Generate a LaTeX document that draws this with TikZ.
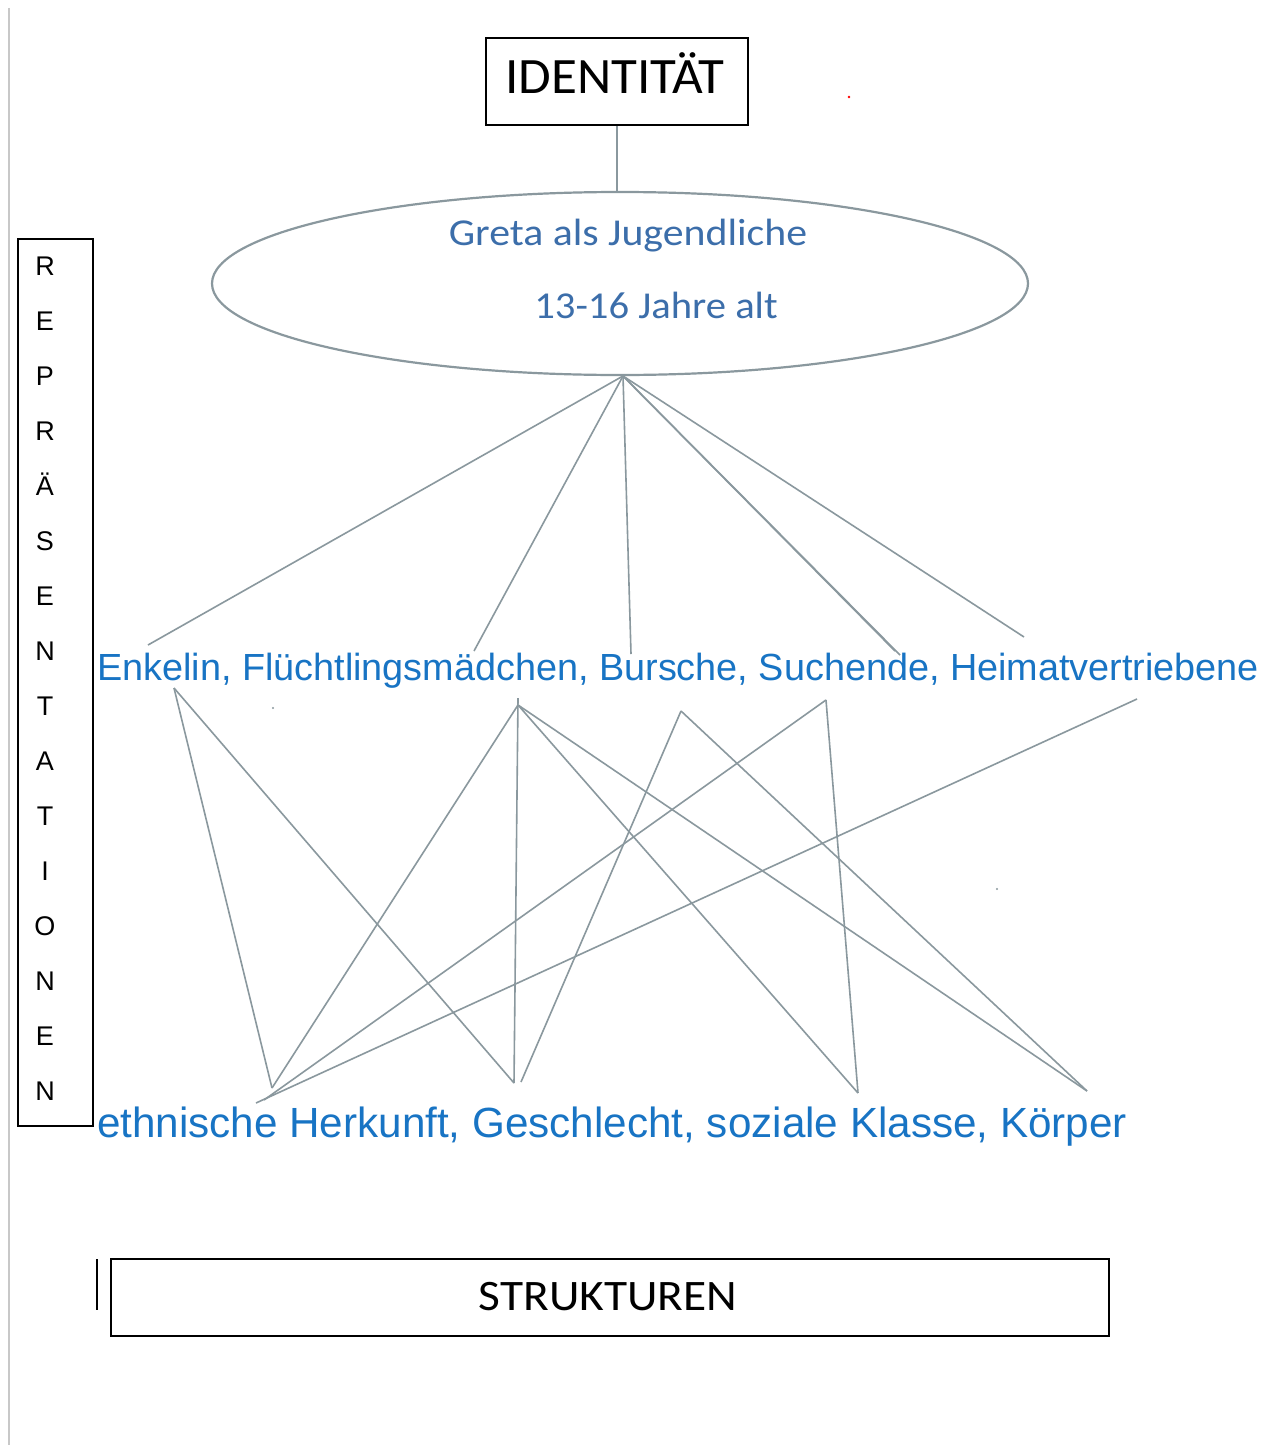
\documentclass[tikz,border=0pt]{standalone}
\usepackage{fontspec}
\setmainfont{Liberation Sans}
\newfontfamily\narrowfont{Carlito}
\usetikzlibrary{shapes.geometric}
\definecolor{lnk}{RGB}{138,152,158}
\definecolor{tblue}{RGB}{24,116,196}
\definecolor{eblue}{RGB}{60,110,170}
\definecolor{edgegray}{RGB}{200,200,200}
\begin{document}
\begin{tikzpicture}[x=1pt,y=-1pt,
  conn/.style={draw=lnk, line width=1.6pt},
  blackbox/.style={draw=black, line width=1.8pt, inner sep=0pt},
  bluetext/.style={text=tblue, inner sep=0pt, anchor=base west},
  elltext/.style={text=eblue, inner sep=0pt, anchor=base, font=\narrowfont\fontsize{38}{40}\selectfont},
  boxtext/.style={text=black, inner sep=0pt, anchor=base, font=\narrowfont\fontsize{51}{53}\selectfont},
  letter/.style={text=black, inner sep=0pt, anchor=base, font=\fontsize{27}{29}\selectfont},
  speck/.style={fill=#1, draw=none}]
\useasboundingbox (0,0) rectangle (1275,1445);
\fill[white] (0,0) rectangle (1275,1445);
\draw[edgegray, line width=1.2pt] (9,8) -- (9,1445);

% IDENTITAET box
\node[blackbox, minimum width=262pt, minimum height=87pt] (idbox) at (617,81.5) {};
\node[boxtext] (idtext) at (615,93) {\scalebox{1.04}[1]{IDENTITÄT}};

% ellipse
\node[ellipse, draw=lnk, line width=2.2pt, minimum width=816pt, minimum height=183pt, inner sep=0pt, outer sep=0pt] (ell) at (620,283.5) {};
\node[elltext] (g1) at (628,245) {\scalebox{1.10}[1]{Greta als Jugendliche}};
\node[elltext] (g2) at (656,318) {\scalebox{1.07}[1]{13-16 Jahre alt}};
\draw[conn] (idbox.south) -- (idbox.south |- ell.north);

% left vertical box
\node[blackbox, minimum width=75pt, minimum height=887pt] (repbox) at (55.5,682.5) {};
\foreach \l [count=\i from 0] in {R,E,P,R,Ä,S,E,N,T,A,T,I,O,N,E,N}{
  \node[letter] (rl\i) at (45,{275+55*\i}) {\l};
}

% middle and bottom texts
\node[bluetext, font=\fontsize{37.8}{40}\selectfont] (mid) at (97,680) {Enkelin, Flüchtlingsmädchen, Bursche, Suchende, Heimatvertriebene};
\node[bluetext, font=\fontsize{42.2}{44}\selectfont] (bot) at (97,1137) {ethnische Herkunft, Geschlecht, soziale Klasse, Körper};

% connector points
\coordinate (apex) at (623,376);
\coordinate (m1) at (148,645);
\coordinate (m2) at (474,651);
\coordinate (m3) at (631,654);
\coordinate (m4) at (900,655);
\coordinate (m4b) at (895,651);
\coordinate (m5) at (1024,637);

\coordinate (ua) at (174,688);
\coordinate (ub) at (518,705);
\coordinate (ubt) at (518,698);
\coordinate (uc) at (681,711);
\coordinate (ud) at (826,700);
\coordinate (ue) at (1137,699);

\coordinate (le) at (272,1088);
\coordinate (led) at (264,1100);
\coordinate (lee) at (256,1103);
\coordinate (lg) at (514,1083);
\coordinate (lgc) at (521,1082);
\coordinate (ls) at (858,1093);
\coordinate (lk) at (1087,1091);

% fan from ellipse
\foreach \t in {m1,m2,m3,m4,m4b,m5}{ \draw[conn] (apex) -- (\t); }

% cross connectors
\draw[conn] (ua) -- (le);
\draw[conn] (ua) -- (lg);
\draw[conn] (ub) -- (le);
\draw[conn] (ubt) -- (lg);
\draw[conn] (ub) -- (ls);
\draw[conn] (ub) -- (lk);
\draw[conn] (uc) -- (lgc);
\draw[conn] (uc) -- (lk);
\draw[conn] (ud) -- (led);
\draw[conn] (ud) -- (ls);
\draw[conn] (ue) -- (lee);

% STRUKTUREN box
\node[blackbox, minimum width=998pt, minimum height=77pt] (strbox) at (610,1297.5) {};
\node[boxtext, font=\narrowfont\fontsize{43.5}{46}\selectfont] (strtext) at (608,1310) {\scalebox{1.09}[1]{STRUKTUREN}};
\draw[black, line width=1.6pt] (97,1259) -- (97,1310);

% specks
\fill[speck=red] (849,97) circle (1.3);
\fill[speck=lnk] (273,708) circle (1.2);
\fill[speck=lnk] (997,889) circle (1.2);
\end{tikzpicture}
\end{document}
